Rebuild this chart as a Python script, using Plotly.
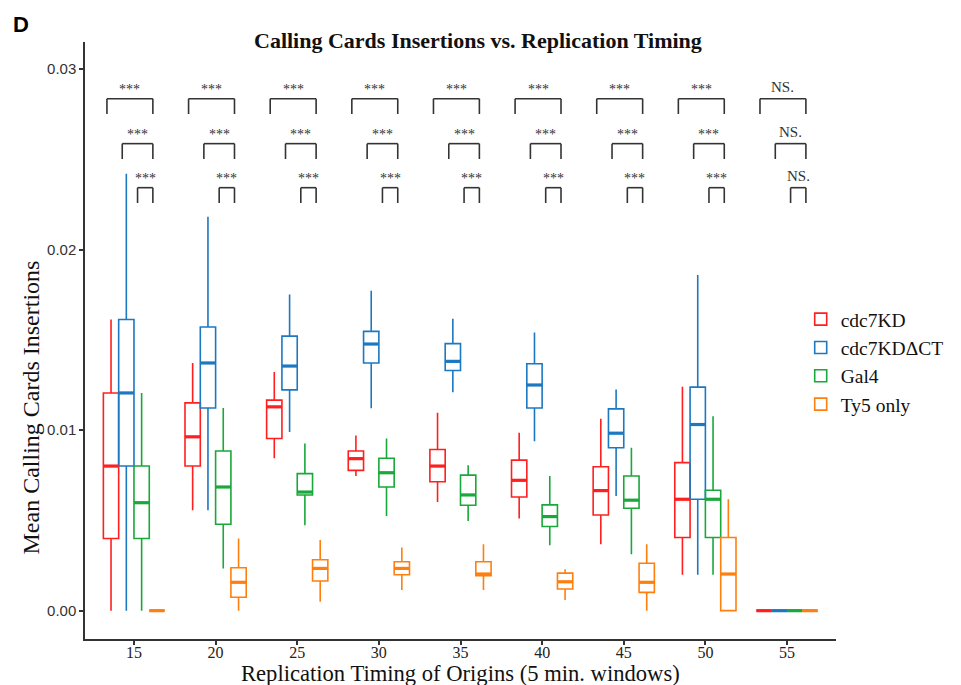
import plotly.graph_objects as go

# ---------------- data ----------------
groups = [15, 20, 25, 30, 35, 40, 45, 50, 55]
tick_labels = ["15", "20", "25", "30", "35", "40", "45", "50", "55"]
series_names = ["cdc7KD", "cdc7KDΔCT", "Gal4", "Ty5 only"]
series_colors = ["#FF1F1F", "#1C78C0", "#19A839", "#FF7F0E"]

cdc7KD_q1 = [0.0040, 0.00801, 0.00954, 0.00777, 0.00714, 0.0063, 0.0053, 0.00405, 0]
cdc7KD_med = [0.00801, 0.00963, 0.01129, 0.00842, 0.00801, 0.00722, 0.00665, 0.00617, 0]
cdc7KD_q3 = [0.01206, 0.01151, 0.01166, 0.00884, 0.00893, 0.00834, 0.00797, 0.0082, 0]
cdc7KD_lo = [0, 0.00556, 0.00844, 0.00746, 0.00602, 0.0051, 0.00368, 0.00199, 0]
cdc7KD_hi = [0.01613, 0.01372, 0.01322, 0.0097, 0.01096, 0.00985, 0.01063, 0.0124, 0]

dct_q1 = [0.00801, 0.01123, 0.01223, 0.01372, 0.0133, 0.01123, 0.00902, 0.00617, 0]
dct_med = [0.01206, 0.01372, 0.01355, 0.01477, 0.01381, 0.0125, 0.00983, 0.01031, 0]
dct_q3 = [0.01613, 0.01571, 0.01521, 0.01547, 0.01479, 0.01368, 0.01118, 0.01238, 0]
dct_lo = [0, 0.00556, 0.00989, 0.01121, 0.0121, 0.00939, 0.00635, 0.00199, 0]
dct_hi = [0.0242, 0.02182, 0.01751, 0.01772, 0.01617, 0.01541, 0.01225, 0.0186, 0]

gal4_q1 = [0.0040, 0.00479, 0.00641, 0.00685, 0.00584, 0.00466, 0.00567, 0.00405, 0]
gal4_med = [0.00598, 0.00685, 0.00657, 0.00764, 0.00641, 0.00521, 0.00612, 0.00617, 0]
gal4_q3 = [0.00801, 0.00884, 0.00759, 0.00844, 0.00751, 0.00586, 0.00746, 0.00667, 0]
gal4_lo = [0, 0.00234, 0.00473, 0.00525, 0.00497, 0.00363, 0.00313, 0.00199, 0]
gal4_hi = [0.01206, 0.01123, 0.00926, 0.00954, 0.00805, 0.00746, 0.00902, 0.01077, 0]

ty5_q1 = [0, 0.00074, 0.00164, 0.00199, 0.00193, 0.0012, 0.00101, 0, 0]
ty5_med = [0, 0.00157, 0.00234, 0.00234, 0.00203, 0.0016, 0.00157, 0.00203, 0]
ty5_q3 = [0, 0.00238, 0.00282, 0.00271, 0.00271, 0.00208, 0.00263, 0.00405, 0]
ty5_lo = [0, 0, 0.0005, 0.00114, 0.00114, 0.00059, 0, 0, 0]
ty5_hi = [0, 0.0040, 0.00392, 0.0035, 0.00368, 0.0023, 0.00368, 0.00617, 0]

y_tickvals = [0, 0.01, 0.02, 0.03]
y_ticktext = ["0.00", "0.01", "0.02", "0.03"]

# significance (each series vs. Ty5 only), one list per bracket row
sig_row1 = ["***"] * 8 + ["NS."]   # cdc7KD vs Ty5 only
sig_row2 = ["***"] * 8 + ["NS."]   # cdc7KDΔCT vs Ty5 only
sig_row3 = ["***"] * 8 + ["NS."]   # Gal4 vs Ty5 only
bracket_levels = [0.02836, 0.02587, 0.02343]

# ---------------- figure ----------------
stats = [
    (cdc7KD_q1, cdc7KD_med, cdc7KD_q3, cdc7KD_lo, cdc7KD_hi),
    (dct_q1, dct_med, dct_q3, dct_lo, dct_hi),
    (gal4_q1, gal4_med, gal4_q3, gal4_lo, gal4_hi),
    (ty5_q1, ty5_med, ty5_q3, ty5_lo, ty5_hi),
]

fig = go.Figure()
BOXGAP = 0.25
n = len(series_names)
dpos = (groups[1] - groups[0]) / 2.0
offsets = [2 * dpos * (-0.5 + (i + 0.5) / n) * (1 - BOXGAP) for i in range(n)]

for i, (name, col, (q1, med, q3, lo, hi)) in enumerate(zip(series_names, series_colors, stats)):
    fig.add_trace(go.Box(
        name=name, x=groups, q1=q1, median=med, q3=q3,
        lowerfence=lo, upperfence=hi, boxpoints=False,
        line=dict(color=col, width=1.6), fillcolor="rgba(255,255,255,0)",
        whiskerwidth=0, offsetgroup=str(i), hoverinfo="skip",
    ))

# thicker median bars (as in ggplot)
for i, (col, st) in enumerate(zip(series_colors, stats)):
    fig.add_trace(go.Scatter(
        x=[g + offsets[i] for g in groups], y=st[1], mode="markers",
        marker=dict(symbol="line-ew", size=11, line=dict(color=col, width=3.2)),
        showlegend=False, hoverinfo="skip",
    ))

# significance brackets
shapes = []
annotations = []
shift = -0.25
leg = 0.00085
for r, (sig_row, lvl) in enumerate(zip([sig_row1, sig_row2, sig_row3], bracket_levels)):
    for g, lab in zip(groups, sig_row):
        x0 = g + offsets[r] + shift
        x1 = g + offsets[3] + shift
        for (a, b, c, d) in [(x0, lvl - leg, x0, lvl), (x0, lvl, x1, lvl), (x1, lvl, x1, lvl - leg)]:
            shapes.append(dict(type="line", xref="x", yref="y", x0=a, y0=b, x1=c, y1=d,
                               line=dict(color="#333333", width=1.6)))
        annotations.append(dict(
            x=(x0 + x1) / 2, y=lvl, xref="x", yref="y", text=lab, showarrow=False,
            yanchor="bottom", yshift=0 if lab == "***" else 2,
            font=dict(family="Liberation Serif", size=14 if lab == "***" else 15, color="#333333"),
        ))

# titles / labels
annotations += [
    dict(text="<b>Calling Cards Insertions vs. Replication Timing</b>", xref="paper", yref="paper",
         x=0.523, y=1.003, xanchor="center", yanchor="middle", showarrow=False,
         font=dict(family="Liberation Serif", size=22, color="#111111")),
    dict(text="<b>D</b>", xref="paper", yref="paper", x=-0.0988, y=1.0285,
         xanchor="left", yanchor="middle", showarrow=False,
         font=dict(family="Liberation Sans", size=22, color="#000000")),
    dict(text="Mean Calling Cards Insertions", xref="paper", yref="paper", x=-0.0725, y=0.387,
         xanchor="center", yanchor="middle", textangle=-90, showarrow=False,
         font=dict(family="Liberation Serif", size=24, color="#111111")),
    dict(text="Replication Timing of Origins (5 min. windows)", xref="paper", yref="paper",
         x=0.5, y=-0.057, xanchor="center", yanchor="middle", showarrow=False,
         font=dict(family="Liberation Serif", size=22.6, color="#111111")),
]

fig.update_layout(
    width=961, height=685, autosize=False,
    margin=dict(l=85, r=117, t=42, b=46),
    paper_bgcolor="white", plot_bgcolor="white",
    boxmode="group", boxgap=BOXGAP, boxgroupgap=0,
    showlegend=True,
    legend=dict(x=0.953, y=0.568, xanchor="left", yanchor="top",
                font=dict(family="Liberation Serif", size=19.5, color="#111111"),
                bgcolor="rgba(255,255,255,0)", tracegroupgap=0),
    xaxis=dict(range=[12, 58], tickvals=groups, ticktext=tick_labels,
               showline=True, linecolor="#333333", linewidth=1.5,
               ticks="outside", ticklen=4, tickcolor="#333333", tickwidth=1.5,
               ticklabelstandoff=-6,
               showgrid=False, zeroline=False,
               tickfont=dict(family="Liberation Serif", size=16, color="#222222")),
    yaxis=dict(range=[-0.00157, 0.0315], tickvals=y_tickvals, ticktext=y_ticktext,
               showline=True, linecolor="#333333", linewidth=1.5,
               ticks="outside", ticklen=4, tickcolor="#333333", tickwidth=1.5,
               showgrid=False, zeroline=False,
               tickfont=dict(family="Liberation Sans", size=15, color="#333333")),
    shapes=shapes, annotations=annotations,
)

fig.write_html("out.html")
